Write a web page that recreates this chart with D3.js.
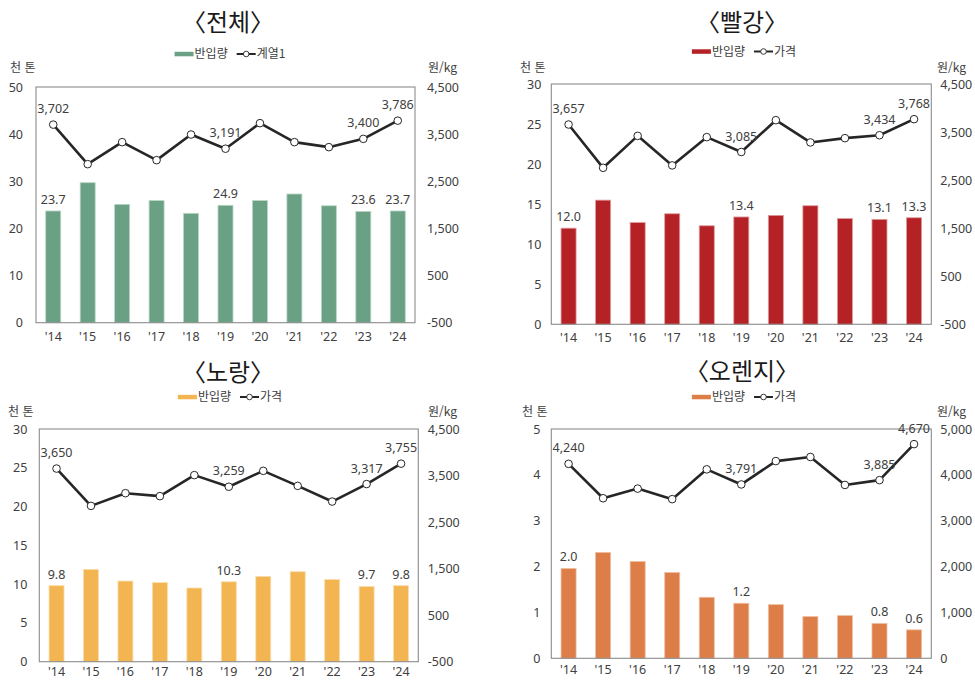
<!DOCTYPE html>
<html lang="ko">
<head>
<meta charset="utf-8">
<script src="https://cdn.jsdelivr.net/npm/d3@7"></script>
<style>
  html, body { margin: 0; padding: 0; background: #fff; }
  svg { display: block; }
  text { font-family: "Noto Sans", "Noto Sans CJK KR", sans-serif; }
  .kr { font-family: "Noto Sans CJK KR", "Noto Sans", sans-serif; }
</style>
</head>
<body>
<svg id="chart" width="975" height="680"></svg>
<script>
// Years on the category axis
const years = ["'14", "'15", "'16", "'17", "'18", "'19", "'20", "'21", "'22", "'23", "'24"];

// Import volume (thousand tonnes) and price (KRW/kg), by colour of paprika
const totalVolume  = [23.7, 29.7, 25.1, 25.9, 23.2, 24.9, 25.9, 27.3, 24.8, 23.6, 23.7];
const totalPrice   = [3702, 2863, 3330, 2948, 3492, 3191, 3733, 3330, 3224, 3400, 3786];
const redVolume    = [12.0, 15.5, 12.7, 13.8, 12.3, 13.4, 13.6, 14.8, 13.2, 13.1, 13.3];
const redPrice     = [3657, 2756, 3421, 2806, 3394, 3085, 3747, 3284, 3373, 3434, 3768];
const yellowVolume = [9.8, 11.9, 10.4, 10.2, 9.5, 10.3, 11.0, 11.6, 10.6, 9.7, 9.8];
const yellowPrice  = [3650, 2848, 3121, 3057, 3509, 3259, 3601, 3278, 2941, 3317, 3755];
const orangeVolume = [1.96, 2.31, 2.11, 1.87, 1.33, 1.20, 1.17, 0.91, 0.93, 0.76, 0.62];
const orangePrice  = [4240, 3490, 3700, 3470, 4120, 3791, 4300, 4390, 3780, 3885, 4670];

// Years whose values are printed
const labeledYears = ["'14", "'19", "'23", "'24"];

// Tick values
const volumeTicks50 = [0, 10, 20, 30, 40, 50];
const volumeTicks30 = [0, 5, 10, 15, 20, 25, 30];
const volumeTicks5  = [0, 1, 2, 3, 4, 5];
const priceTicksOffset = [-500, 500, 1500, 2500, 3500, 4500];
const priceTicks5000   = [0, 1000, 2000, 3000, 4000, 5000];

// Titles and legend names
const titles = ["〈전체〉", "〈빨강〉", "〈노랑〉", "〈오렌지〉"];
const barSeriesName = "반입량";
const lineSeriesNames = ["계열1", "가격", "가격", "가격"];
const leftUnit = "천 톤";
const rightUnit = "원/kg";

// Panel layout and style
const panels = [
  { title: titles[0], lineName: lineSeriesNames[0], volume: totalVolume, price: totalPrice,
    color: "#6AA185", edge: "#B9D5C5", leftTicks: volumeTicks50, rightTicks: priceTicksOffset,
    box: { l: 36, r: 415, t: 87, b: 322.7 }, titleX: 228, titleY: 31, legendY: 54,
    leftUnitX: 10, rightUnitX: 428, unitY: 72, leftGap: 13, rightGap: 12, xLabelDy: 18 },
  { title: titles[1], lineName: lineSeriesNames[1], volume: redVolume, price: redPrice,
    color: "#B52226", edge: "#DE9C9E", leftTicks: volumeTicks30, rightTicks: priceTicksOffset,
    box: { l: 551.3, r: 931.3, t: 84, b: 324.3 }, titleX: 742, titleY: 31, legendY: 51.5,
    leftUnitX: 520, rightUnitX: 937, unitY: 72, leftGap: 10, rightGap: 9, xLabelDy: 17.5 },
  { title: titles[2], lineName: lineSeriesNames[2], volume: yellowVolume, price: yellowPrice,
    color: "#F2B552", edge: "#F9DEAE", leftTicks: volumeTicks30, rightTicks: priceTicksOffset,
    box: { l: 39.3, r: 418.3, t: 429, b: 661.7 }, titleX: 228, titleY: 381, legendY: 397,
    leftUnitX: 8, rightUnitX: 428, unitY: 415.5, leftGap: 12, rightGap: 9.5, xLabelDy: 14.8 },
  { title: titles[3], lineName: lineSeriesNames[3], volume: orangeVolume, price: orangePrice,
    color: "#DD7D48", edge: "#EFBFA3", leftTicks: volumeTicks5, rightTicks: priceTicks5000,
    box: { l: 551.3, r: 931.3, t: 429, b: 658.3 }, titleX: 742, titleY: 380, legendY: 397,
    leftUnitX: 522, rightUnitX: 937, unitY: 415.5, leftGap: 11, rightGap: 9, xLabelDy: 16 }
];

const textColor = "#404040";
const frameColor = "#8C8C8C";
const lineColor = "#262626";
const svg = d3.select("#chart");

// Number formats with a plain hyphen for negatives
const locale = d3.formatLocale({ decimal: ".", thousands: ",", grouping: [3], currency: ["", ""], minus: "-" });
const fmtThousands = locale.format(",");
const fmtOneDecimal = locale.format(".1f");
const fmtInt = locale.format("d");

panels.forEach(p => {
  const g = svg.append("g");
  const { l, r, t, b } = p.box;

  const x = d3.scaleBand().domain(years).range([l, r]).paddingInner(0.565).paddingOuter(0.2825);
  const yL = d3.scaleLinear().domain(d3.extent(p.leftTicks)).range([b, t]);
  const yR = d3.scaleLinear().domain(d3.extent(p.rightTicks)).range([b, t]);
  const cx = d => x(d) + x.bandwidth() / 2;

  // Title
  g.append("text").attr("class", "kr")
    .attr("x", p.titleX).attr("y", p.titleY)
    .attr("text-anchor", "middle")
    .attr("font-size", 24).attr("fill", "#1a1a1a")
    .text(p.title);

  // Legend
  const lg = g.append("g");
  let cur = 0;
  lg.append("rect").attr("x", cur).attr("y", -2.2).attr("width", 19).attr("height", 4.5).attr("fill", p.color);
  cur += 20;
  const t1 = lg.append("text").attr("class", "kr").attr("x", cur).attr("y", 4)
    .attr("font-size", 12).attr("fill", textColor).text(barSeriesName);
  cur += t1.node().getComputedTextLength() + 9;
  lg.append("line").attr("x1", cur).attr("x2", cur + 19).attr("y1", 0).attr("y2", 0)
    .attr("stroke", lineColor).attr("stroke-width", 2);
  lg.append("circle").attr("cx", cur + 9.5).attr("cy", 0).attr("r", 2.8)
    .attr("fill", "#fff").attr("stroke", lineColor).attr("stroke-width", 0.9);
  cur += 20;
  const t2 = lg.append("text").attr("class", "kr").attr("x", cur).attr("y", 4)
    .attr("font-size", 12).attr("fill", textColor).text(p.lineName);
  cur += t2.node().getComputedTextLength();
  lg.attr("transform", `translate(${p.titleX + 2 - cur / 2},${p.legendY})`);

  // Axis unit captions
  g.append("text").attr("class", "kr").attr("x", p.leftUnitX).attr("y", p.unitY)
    .attr("font-size", 12).attr("fill", textColor).text(leftUnit);
  g.append("text").attr("class", "kr").attr("x", p.rightUnitX).attr("y", p.unitY)
    .attr("font-size", 12).attr("fill", textColor).text(rightUnit);

  // Left (volume) axis
  const axL = g.append("g").attr("transform", `translate(${l - p.leftGap},0)`)
    .call(d3.axisLeft(yL).tickValues(p.leftTicks).tickSize(0).tickPadding(0).tickFormat(fmtInt));
  axL.select(".domain").remove();
  axL.selectAll("text").attr("font-size", 12.5).attr("fill", textColor)
    .attr("font-family", "'Noto Sans', sans-serif");

  // Right (price) axis
  const axR = g.append("g").attr("transform", `translate(${r + p.rightGap},0)`)
    .call(d3.axisRight(yR).tickValues(p.rightTicks).tickSize(0).tickPadding(0).tickFormat(fmtThousands));
  axR.select(".domain").remove();
  axR.selectAll("text").attr("font-size", 12.5).attr("fill", textColor)
    .attr("font-family", "'Noto Sans', sans-serif");

  // Category axis labels
  const axX = g.append("g").attr("transform", `translate(0,${b})`)
    .call(d3.axisBottom(x).tickSize(0).tickPadding(0));
  axX.select(".domain").remove();
  axX.selectAll("text").attr("font-size", 12.5).attr("fill", textColor)
    .attr("font-family", "'Noto Sans', sans-serif")
    .attr("dy", null).attr("y", p.xLabelDy);

  // Bars
  g.append("g").selectAll("rect").data(years).join("rect")
    .attr("x", d => x(d))
    .attr("y", (d, i) => yL(p.volume[i]))
    .attr("width", x.bandwidth())
    .attr("height", (d, i) => b - yL(p.volume[i]))
    .attr("fill", p.color)
    .attr("stroke", p.edge).attr("stroke-width", 0.8);

  // Plot frame
  g.append("rect").attr("x", l).attr("y", t).attr("width", r - l).attr("height", b - t)
    .attr("fill", "none").attr("stroke", frameColor).attr("stroke-width", 1.1);

  // Bar value labels
  g.append("g").selectAll("text").data(years.map((d, i) => ({ d, v: p.volume[i] }))
      .filter(o => labeledYears.includes(o.d)))
    .join("text")
    .attr("x", o => cx(o.d)).attr("y", o => yL(o.v) - 7)
    .attr("text-anchor", "middle").attr("font-size", 12.5).attr("fill", textColor)
    .text(o => fmtOneDecimal(o.v));

  // Price line
  const pts = years.map((d, i) => ({ d, v: p.price[i] }));
  g.append("path").datum(pts)
    .attr("fill", "none").attr("stroke", lineColor).attr("stroke-width", 2.6)
    .attr("stroke-linejoin", "round")
    .attr("d", d3.line().x(o => cx(o.d)).y(o => yR(o.v)));
  g.append("g").selectAll("circle").data(pts).join("circle")
    .attr("cx", o => cx(o.d)).attr("cy", o => yR(o.v)).attr("r", 3.8)
    .attr("fill", "#fff").attr("stroke", lineColor).attr("stroke-width", 1);

  // Price value labels
  g.append("g").selectAll("text").data(pts.filter(o => labeledYears.includes(o.d)))
    .join("text")
    .attr("x", o => cx(o.d)).attr("y", o => yR(o.v) - 11.5)
    .attr("text-anchor", "middle").attr("font-size", 12.5).attr("fill", textColor)
    .text(o => fmtThousands(o.v));
});
</script>
</body>
</html>
